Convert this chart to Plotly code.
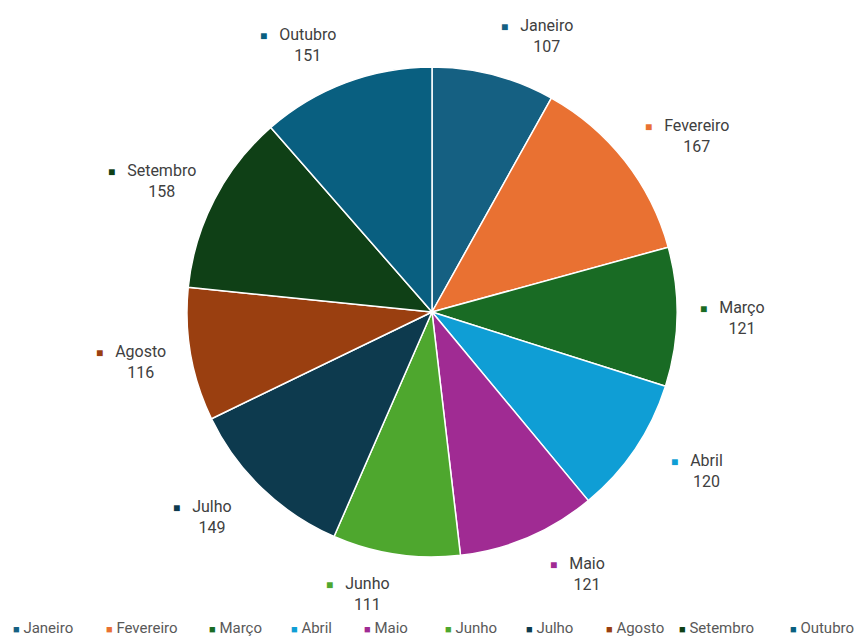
import math
import plotly.graph_objects as go

months = ["Janeiro", "Fevereiro", "Março", "Abril", "Maio", "Junho",
          "Julho", "Agosto", "Setembro", "Outubro"]
values = [107, 167, 121, 120, 121, 111, 149, 116, 158, 151]
colors = ["#156082", "#E97132", "#196B24", "#0F9ED5", "#A02B93", "#4EA72E",
          "#0D3A4E", "#9A3F10", "#0F4016", "#095F80"]

W, H = 864, 640
M_L, M_R, M_T, M_B = 0, 0, 67, 83
plot_h = H - M_T - M_B
cx_px = M_L + (W - M_L - M_R) / 2
cy_px = M_T + plot_h / 2

FONT = "Roboto, Arial, sans-serif"

fig = go.Figure(go.Pie(
    labels=months,
    values=values,
    marker=dict(colors=colors, line=dict(color="white", width=1.5)),
    sort=False,
    direction="clockwise",
    rotation=0,
    textinfo="none",
    showlegend=False,
    hovertemplate="%{label}: %{value}<extra></extra>",
))

annotations = []
total = sum(values)
cum = 0
for name, v, c in zip(months, values, colors):
    theta = math.radians((cum + v / 2) / total * 360)
    cum += v
    s, co = math.sin(theta), math.cos(theta)
    px = cx_px + 300 * s + 30 * (1 if s >= 0 else -1) * abs(co)
    py = cy_px - 285 * co
    sq = f"<span style='color:{c};font-size:12px'>■</span>"
    sq_t = "<span style='color:rgba(0,0,0,0);font-size:12px'>■</span>"
    annotations.append(dict(
        x=px / W, y=(H - M_B - py) / plot_h, xref="paper", yref="paper",
        text=f"{sq}&nbsp;&nbsp;&nbsp;{name}<br>{sq_t}&nbsp;&nbsp;&nbsp;{v}",
        showarrow=False,
        xanchor="center", yanchor="middle", align="center",
        font=dict(family=FONT, size=16, color="#404040"),
    ))

legend_x = [11, 104, 207, 289, 362, 443, 524, 604, 677, 788]
for name, c, lx in zip(months, colors, legend_x):
    annotations.append(dict(
        x=lx / W, y=(H - M_B - 628) / plot_h, xref="paper", yref="paper",
        text=f"<span style='color:{c};font-size:11px'>■</span>&nbsp;{name}",
        showarrow=False, xanchor="left", yanchor="middle",
        font=dict(family=FONT, size=15, color="#595959"),
    ))

fig.update_layout(
    width=W, height=H,
    margin=dict(l=M_L, r=M_R, t=M_T, b=M_B),
    paper_bgcolor="white", plot_bgcolor="white",
    annotations=annotations,
)

fig.write_html("out.html",
               config={"displayModeBar": False},
               post_script="document.body.style.margin='0';"
                           "document.body.style.overflow='hidden';")
